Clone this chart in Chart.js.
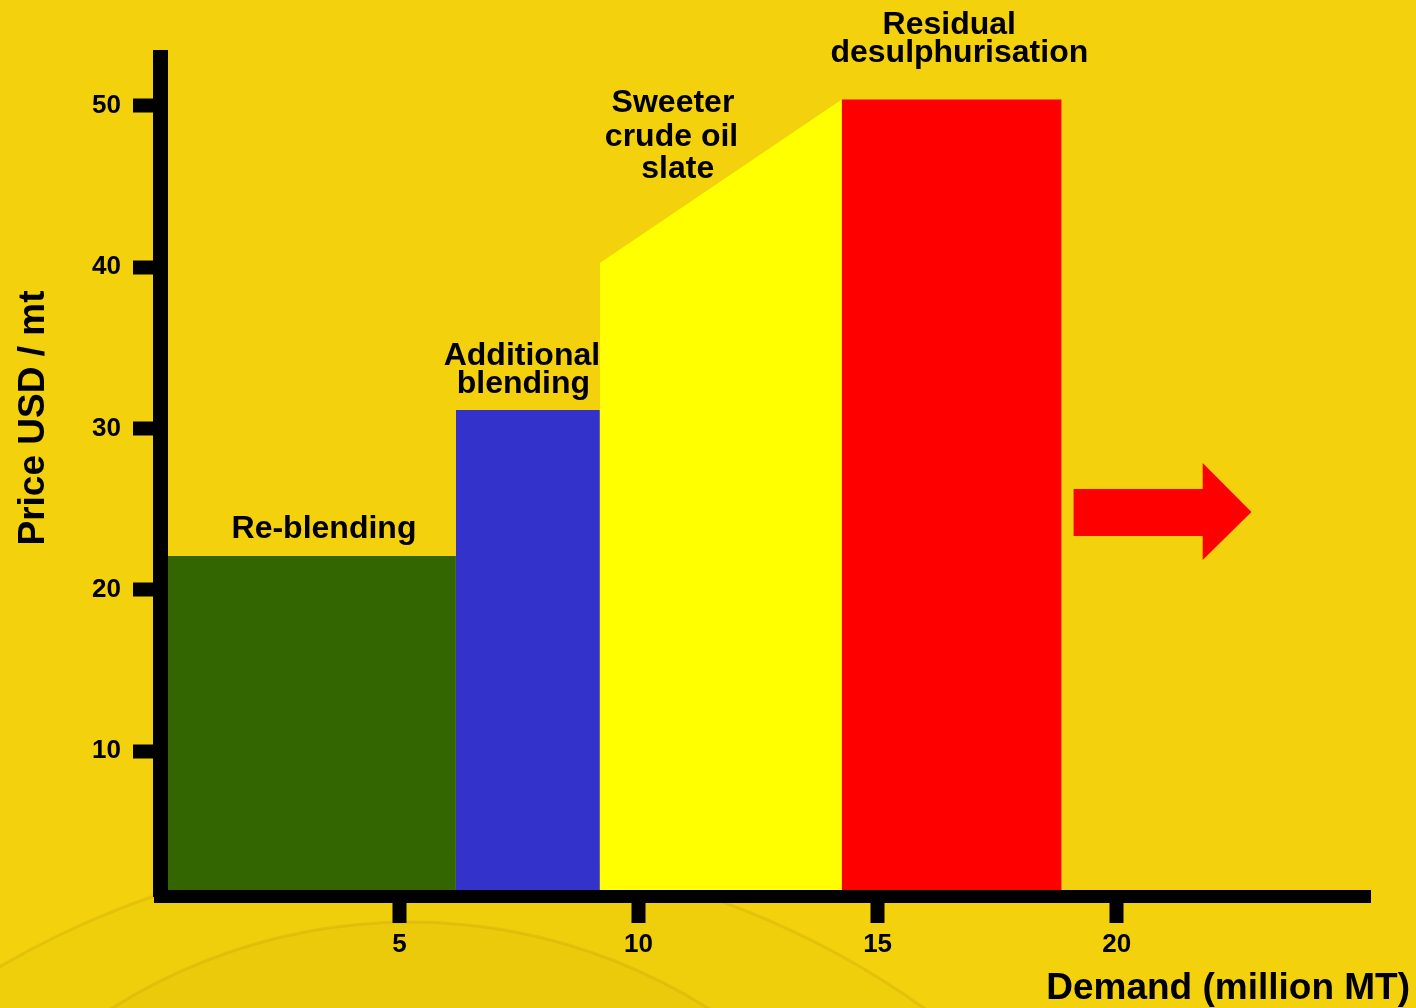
<!DOCTYPE html>
<html>
<head>
<meta charset="utf-8">
<style>
  html, body { margin: 0; padding: 0; background: #F3D10D; }
  #wrap { width: 1416px; height: 1008px; }
</style>
<script src="https://cdn.jsdelivr.net/npm/chart.js@4/dist/chart.umd.min.js"></script>
</head>
<body>
<div id="wrap"><canvas id="c" width="1416" height="1008"></canvas></div>
<script>
// ---- data ----
const segmentNames   = ['Re-blending', 'Additional blending', 'Sweeter crude oil slate', 'Residual desulphurisation'];
const demandStart    = [0, 6.18, 9.19, 14.25];      // million MT
const demandEnd      = [6.18, 9.19, 14.25, 18.85];  // million MT
const priceStart     = [22.1, 31.15, 40.26, 50.4];  // USD / mt
const priceEnd       = [22.1, 31.15, 50.4, 50.4];   // USD / mt
const xTickValues    = [5, 10, 15, 20];
const yTickValues    = [10, 20, 30, 40, 50];
const arrowX         = [19.1, 21.8, 21.8, 22.82, 21.8, 21.8, 19.1, 19.1];
const arrowY         = [26.26, 26.26, 27.87, 24.83, 21.86, 23.35, 23.35, 26.26];
const xTitle = 'Demand (million MT)';
const yTitle = 'Price USD / mt';

// ---- styles ----
const segmentColors = ['#336600', '#3333CC', '#FFFF00', '#FF0000'];
const FONT = '"Liberation Sans", Arial, sans-serif';
// label lines: [text, x (data), baseline y (data)]
const labelLines = [
  ['Re-blending', 3.42, 23.22],
  ['Additional', 7.56, 33.94],
  ['blending', 7.59, 32.2],
  ['Sweeter', 10.72, 49.62],
  ['crude oil', 10.69, 47.51],
  ['slate', 10.82, 45.53],
  ['Residual', 16.5, 54.45],
  ['desulphurisation', 16.71, 52.72]
];

const datasets = segmentNames.map((name, i) => ({
  label: name,
  data: [{x: demandStart[i], y: priceStart[i]}, {x: demandEnd[i], y: priceEnd[i]}],
  fill: 'start',
  backgroundColor: segmentColors[i],
  borderColor: 'rgba(0,0,0,0)',
  borderWidth: 0,
  pointRadius: 0,
  tension: 0
}));
datasets.push({
  label: 'arrow',
  data: arrowX.map((x, i) => ({x: x, y: arrowY[i]})),
  fill: 'shape',
  backgroundColor: '#FF0000',
  borderColor: 'rgba(0,0,0,0)',
  borderWidth: 0,
  pointRadius: 0,
  tension: 0
});

const bgPlugin = {
  id: 'bg',
  beforeDraw(chart) {
    const ctx = chart.ctx;
    ctx.save();
    ctx.fillStyle = '#F3D10D';
    ctx.fillRect(0, 0, chart.width, chart.height);
    // faint watermark at the bottom
    ctx.beginPath();
    ctx.arc(430, 1700, 850, 0, Math.PI * 2);
    ctx.fillStyle = 'rgba(200,165,0,0.07)';
    ctx.fill();
    ctx.lineWidth = 3;
    ctx.strokeStyle = 'rgba(170,135,0,0.18)';
    ctx.stroke();
    ctx.beginPath();
    ctx.arc(410, 1480, 558, 0, Math.PI * 2);
    ctx.fillStyle = 'rgba(190,155,0,0.08)';
    ctx.fill();
    ctx.lineWidth = 3;
    ctx.strokeStyle = 'rgba(170,135,0,0.18)';
    ctx.stroke();
    ctx.restore();
  }
};

const textPlugin = {
  id: 'texts',
  afterDraw(chart) {
    const ctx = chart.ctx;
    const xs = chart.scales.x, ys = chart.scales.y;
    ctx.save();
    ctx.fillStyle = '#000';
    ctx.textBaseline = 'alphabetic';
    ctx.textAlign = 'center';
    ctx.font = 'bold 32px ' + FONT;
    labelLines.forEach(([t, x, y]) => {
      ctx.fillText(t, xs.getPixelForValue(x), ys.getPixelForValue(y));
    });
    // axis titles
    ctx.font = 'bold 37px ' + FONT;
    ctx.textAlign = 'right';
    ctx.fillText(xTitle, 1410, 999);
    ctx.translate(44, 418);
    ctx.rotate(-Math.PI / 2);
    ctx.textAlign = 'center';
    ctx.fillText(yTitle, 0, 0);
    ctx.restore();
  }
};

new Chart(document.getElementById('c'), {
  type: 'line',
  data: { datasets },
  plugins: [bgPlugin, textPlugin],
  options: {
    responsive: false,
    animation: false,
    events: [],
    layout: { padding: { left: 0, top: 57.5, right: 46, bottom: 0 } },
    plugins: { legend: { display: false }, tooltip: { enabled: false }, title: { display: false } },
    scales: {
      x: {
        type: 'linear', position: 'bottom', min: 0, max: 25.3,
        afterBuildTicks: s => { s.ticks = xTickValues.map(v => ({ value: v })); },
        afterFit: s => { s.height = 111.5; },
        grid: { drawOnChartArea: false, drawTicks: true, tickLength: 26.5, tickWidth: 14, tickColor: '#000', lineWidth: 1 },
        border: { display: true, color: '#000', width: 13, z: 1 },
        ticks: {
          color: '#000', padding: 6, maxRotation: 0, autoSkip: false,
          font: { family: FONT, weight: 'bold', size: 26 },
          callback: v => String(v)
        }
      },
      y: {
        type: 'linear', position: 'left', min: 1, max: 53,
        afterBuildTicks: s => { s.ticks = yTickValues.map(v => ({ value: v })); },
        afterFit: s => { s.width = 160.5; },
        grid: { drawOnChartArea: false, drawTicks: true, tickLength: 27.5, tickWidth: 14, tickColor: '#000', lineWidth: 1 },
        border: { display: true, color: '#000', width: 15, z: 1 },
        ticks: {
          color: '#000', padding: 12, autoSkip: false,
          font: { family: FONT, weight: 'bold', size: 26 },
          callback: v => String(v)
        }
      }
    }
  }
});
</script>
</body>
</html>
